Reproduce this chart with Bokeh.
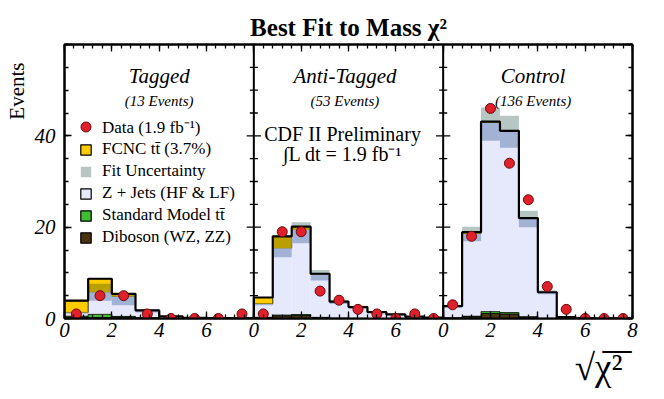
import numpy as np
from bokeh.plotting import figure
from bokeh.models import (Range1d, LinearAxis, SingleIntervalTicker, Label, Span,
                          Legend, LegendItem, Title)
from bokeh.embed import file_html
from bokeh.resources import INLINE

# ---------------- data ----------------
panel_names = ["Tagged", "Anti-Tagged", "Control"]
panel_counts = ["(13 Events)", "(53 Events)", "(136 Events)"]
panel_span = 8.0

tag_bin_width = 1.0
tag_data = [1, 5, 5, 1, 0, 0, 0, 1]
tag_diboson = [0.3, 0.2, 0.3, 0.1, 0.05, 0.0, 0.0, 0.0]
tag_smtt = [0.2, 0.7, 0.15, 0.05, 0.0, 0.0, 0.0, 0.0]
tag_zjets = [0.8, 4.85, 4.35, 1.55, 0.35, 0.15, 0.1, 0.05]
tag_fcnc = [2.6, 2.95, 0.6, 0.1, 0.05, 0.0, 0.0, 0.0]
tag_band_lo = [1.1, 3.9, 2.9, 1.3, 0.3, 0.1, 0.05, 0.0]
tag_band_hi = [1.5, 7.6, 5.3, 2.0, 0.5, 0.2, 0.15, 0.1]

anti_bin_width = 0.8
anti_data = [1, 19, 19, 6, 4, 2, 1, 0, 1, 0]
anti_diboson = [0.2, 0.6, 0.7, 0.2, 0.1, 0.05, 0.0, 0.0, 0.0, 0.0]
anti_smtt = [0.05, 0.15, 0.15, 0.05, 0.0, 0.0, 0.0, 0.0, 0.0, 0.0]
anti_zjets = [2.95, 14.65, 18.55, 9.4, 3.55, 2.4, 1.4, 0.9, 0.4, 0.2]
anti_fcnc = [1.4, 2.6, 0.7, 0.15, 0.05, 0.05, 0.0, 0.0, 0.0, 0.0]
anti_band_lo = [2.9, 13.4, 16.5, 8.3, 3.2, 2.2, 1.2, 0.7, 0.3, 0.1]
anti_band_hi = [3.3, 18.0, 21.1, 10.6, 4.1, 2.8, 1.6, 1.0, 0.5, 0.3]

ctrl_bin_width = 0.8
ctrl_data = [3, 18, 46, 34, 26, 7, 2, 0, 0, 0]
ctrl_diboson = [0.1, 0.4, 1.1, 1.0, 0.3, 0.05, 0.0, 0.0, 0.0, 0.0]
ctrl_smtt = [0.02, 0.1, 0.4, 0.3, 0.05, 0.0, 0.0, 0.0, 0.0, 0.0]
ctrl_zjets = [2.53, 18.1, 41.3, 39.7, 21.6, 5.7, 0.3, 0.05, 0.0, 0.0]
ctrl_fcnc = [0.05, 0.3, 0.3, 0.1, 0.05, 0.0, 0.0, 0.0, 0.0, 0.0]
ctrl_band_lo = [2.4, 16.9, 38.9, 37.4, 20.0, 5.3, 0.2, 0.0, 0.0, 0.0]
ctrl_band_hi = [3.0, 20.1, 46.2, 44.4, 23.6, 6.2, 0.4, 0.1, 0.0, 0.0]

x_tick_labels = ["0", "2", "4", "6", "0", "2", "4", "6", "0", "2", "4", "6", "8"]
y_tick_labels = {0: "0", 20: "20", 40: "40", 60: ""}

legend_labels = ["Data (1.9 fb\u207b\u00b9)", "FCNC tt\u0304 (3.7%)", "Fit Uncertainty",
                 "Z + Jets (HF & LF)", "Standard Model tt\u0304", "Diboson (WZ, ZZ)"]

# ---------------- style ----------------
SERIF = "Liberation Serif"
INK = "black"
RED = "#e0202a"
DKRED = "#6b0a0a"
YEL = "#ffcc00"
DKYEL = "#b9a000"
GRAY = "#b7c6c3"
BLUE = "#a2b2d5"
LAV = "#e6e8fb"
GREEN = "#3fbf2f"
BROWN = "#4a3311"

panels = [
    (tag_bin_width, tag_data, tag_diboson, tag_smtt, tag_zjets, tag_fcnc, tag_band_lo, tag_band_hi),
    (anti_bin_width, anti_data, anti_diboson, anti_smtt, anti_zjets, anti_fcnc, anti_band_lo, anti_band_hi),
    (ctrl_bin_width, ctrl_data, ctrl_diboson, ctrl_smtt, ctrl_zjets, ctrl_fcnc, ctrl_band_lo, ctrl_band_hi),
]

n_pan = len(panels)
p = figure(width=660, height=396, x_range=Range1d(0, panel_span * n_pan), y_range=Range1d(0, 60),
           output_backend="svg", toolbar_location=None,
           min_border_left=62, min_border_right=28, min_border_top=44, min_border_bottom=78)
p.xgrid.visible = False
p.ygrid.visible = False
p.outline_line_color = "black"
p.outline_line_width = 2
p.background_fill_color = "white"
p.border_fill_color = "white"

p.title.text = "Best Fit to Mass \u03c7\u00b2"
p.title.align = "center"
p.title.offset = -9
p.title.standoff = 7
p.title.text_font = SERIF
p.title.text_font_style = "bold"
p.title.text_font_size = "25px"
p.title.text_color = INK


def quads(left, right, bottom, top, **kw):
    m = top - bottom > 1e-9
    if m.any():
        return p.quad(left=left[m], right=right[m], bottom=bottom[m], top=top[m], **kw)


for k, (w, dat, dib, sm, zj, fc, lo, hi) in enumerate(panels):
    off = k * panel_span
    n = len(dat)
    left = off + np.arange(n) * w
    right = left + w
    dib = np.array(dib); sm = np.array(sm); zj = np.array(zj); fc = np.array(fc)
    lo = np.array(lo); hi = np.array(hi)
    b1 = dib
    b2 = b1 + sm
    b3 = b2 + zj
    b4 = b3 + fc
    quads(left, right, b2, b3, fill_color=LAV, line_alpha=0)
    quads(left, right, np.zeros(n), b1, fill_color=BROWN, line_color="black", line_width=0.8)
    quads(left, right, b1, b2, fill_color=GREEN, line_color="black", line_width=0.8)
    quads(left, right, b3, b4, fill_color=YEL, line_color="black", line_width=0.8)
    # fit uncertainty band as seen over each layer
    quads(left, right, lo, np.minimum(hi, b3), fill_color=BLUE, line_alpha=0)
    quads(left, right, np.maximum(lo, b3), np.minimum(hi, b4), fill_color=DKYEL, line_alpha=0)
    quads(left, right, np.maximum(lo, b4), hi, fill_color=GRAY, line_alpha=0)
    # total outline
    edges = off + np.arange(n + 1) * w
    xs = np.repeat(edges, 2)
    ys = np.concatenate([[0], np.repeat(b4, 2), [0]])
    p.line(xs, ys, line_color="black", line_width=2.2)
    # data
    p.scatter(left + w / 2, dat, marker="circle", size=10, fill_color=RED,
              line_color=DKRED, line_width=1)

# panel dividers with ticks on both sides
for k in range(1, n_pan):
    xd = k * panel_span
    p.add_layout(Span(location=xd, dimension="height", line_color="black", line_width=2))
    yt = np.arange(5, 60, 5)
    ln = np.where(yt % 20 == 0, 0.3, 0.17)
    p.segment(x0=xd - ln, x1=xd + ln, y0=yt, y1=yt, line_color="black", line_width=1.3)

# axes
overrides = {2 * i: lab for i, lab in enumerate(x_tick_labels)}


def style_axis(ax, show_labels):
    ax.axis_line_width = 2
    ax.axis_line_color = "black"
    ax.major_tick_line_color = "black"
    ax.minor_tick_line_color = "black"
    ax.major_tick_in = 7
    ax.major_tick_out = 0
    ax.minor_tick_in = 4
    ax.minor_tick_out = 0
    ax.major_tick_line_width = 1.3
    ax.minor_tick_line_width = 1.3
    ax.major_label_text_font = SERIF
    ax.major_label_text_font_style = "italic"
    ax.major_label_text_color = INK
    ax.major_label_text_font_size = "21px" if show_labels else "0px"
    if not show_labels:
        ax.major_label_standoff = 0


p.xaxis.ticker = SingleIntervalTicker(interval=2, num_minor_ticks=5)
p.xaxis.major_label_overrides = overrides
style_axis(p.xaxis[0], True)
p.xaxis.major_label_standoff = 4
p.yaxis.ticker = SingleIntervalTicker(interval=20, num_minor_ticks=4)
p.yaxis.major_label_overrides = y_tick_labels
style_axis(p.yaxis[0], True)
p.yaxis.major_label_standoff = 9

top_ax = LinearAxis(ticker=SingleIntervalTicker(interval=2, num_minor_ticks=5))
style_axis(top_ax, False)
p.add_layout(top_ax, "above")
right_ax = LinearAxis(ticker=SingleIntervalTicker(interval=20, num_minor_ticks=4))
style_axis(right_ax, False)
p.add_layout(right_ax, "right")

# side titles (axis labels)
p.add_layout(Title(text="Events", align="right", offset=18, text_font=SERIF,
                   text_font_style="normal", text_font_size="21px", text_color=INK,
                   standoff=5), "left")
p.add_layout(Title(text="\u221a\u03c7\u0305\u00b2\u0305", align="right", offset=10,
                   text_font=SERIF, text_font_style="normal", text_font_size="37px",
                   text_color=INK, standoff=11), "below")

# texts inside the panels
centers = [4.0, 11.85, 19.8]
for k in range(n_pan):
    p.add_layout(Label(x=centers[k], y=53.0, text=panel_names[k], text_align="center",
                       text_baseline="alphabetic", text_font=SERIF, text_font_style="italic",
                       text_font_size="21px", text_color=INK))
    p.add_layout(Label(x=centers[k], y=47.7, text=panel_counts[k], text_align="center",
                       text_baseline="alphabetic", text_font=SERIF, text_font_style="italic",
                       text_font_size="15px", text_color=INK))

p.add_layout(Label(x=11.75, y=40.3, text="CDF II Preliminary", text_align="center",
                   text_baseline="alphabetic", text_font=SERIF, text_font_size="20px",
                   text_color=INK))
p.add_layout(Label(x=11.75, y=36.0, text="\u222bL dt = 1.9 fb\u207b\u00b9", text_align="center",
                   text_baseline="alphabetic", text_font=SERIF, text_font_size="20px",
                   text_color=INK))

# legend (proxy renderers with no drawable coordinates)
nan = [np.nan]
r_data = p.scatter(x=nan, y=nan, marker="circle", size=11, fill_color=RED, line_color=DKRED, line_width=1)
r_fc = p.quad(left=nan, right=nan, top=nan, bottom=nan, fill_color=YEL, line_color="black", line_width=1.2)
r_unc = p.quad(left=nan, right=nan, top=nan, bottom=nan, fill_color=GRAY, line_alpha=0)
r_zj = p.quad(left=nan, right=nan, top=nan, bottom=nan, fill_color=LAV, line_color="black", line_width=1.2)
r_sm = p.quad(left=nan, right=nan, top=nan, bottom=nan, fill_color=GREEN, line_color="black", line_width=1.2)
r_db = p.quad(left=nan, right=nan, top=nan, bottom=nan, fill_color=BROWN, line_color="black", line_width=1.2)

legend_common = dict(padding=0, margin=0, spacing=0, label_width=10,
                     border_line_alpha=0, background_fill_alpha=0,
                     label_text_font=SERIF, label_text_font_size="17px", label_text_color=INK)
legend_data = Legend(items=[LegendItem(label=legend_labels[0], renderers=[r_data])],
                     location=(9, 179), glyph_width=25, glyph_height=25, label_standoff=4,
                     label_height=25, **legend_common)
rends = [r_fc, r_unc, r_zj, r_sm, r_db]
legend_mc = Legend(items=[LegendItem(label=l, renderers=[r]) for l, r in zip(legend_labels[1:], rends)],
                   location=(15, 70), glyph_width=13, glyph_height=13, label_standoff=10,
                   label_height=22, **legend_common)
p.add_layout(legend_data)
p.add_layout(legend_mc)

open("out.html", "w").write(file_html(p, INLINE))
